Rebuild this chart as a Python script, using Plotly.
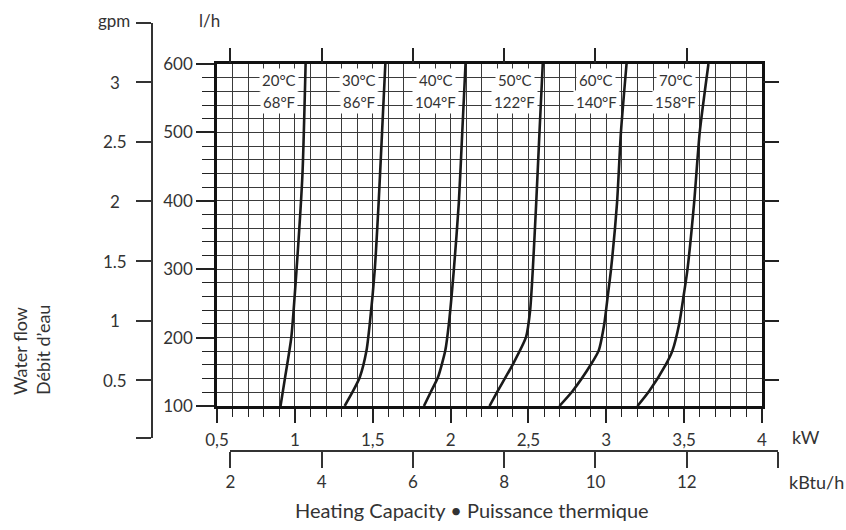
import plotly.graph_objects as go

W, H = 846, 530

# ---------------- data ----------------
temps_c = ["20°C", "30°C", "40°C", "50°C", "60°C", "70°C"]
temps_f = ["68°F", "86°F", "104°F", "122°F", "140°F", "158°F"]
label_kw = [0.897, 1.409, 1.904, 2.413, 2.934, 3.447]

flow_20 = [100, 140, 200, 300, 440, 600]
kw_20 = [0.908, 0.936, 0.977, 1.011, 1.049, 1.069]
flow_30 = [100, 122, 142, 181, 220, 299, 397, 500, 600]
kw_30 = [1.32, 1.374, 1.417, 1.46, 1.481, 1.513, 1.538, 1.56, 1.581]
flow_40 = [100, 122, 142, 181, 220, 299, 397, 500, 600]
kw_40 = [1.829, 1.876, 1.919, 1.966, 1.989, 2.021, 2.053, 2.075, 2.096]
flow_50 = [100, 122, 161, 201, 240, 299, 397, 500, 600]
kw_50 = [2.25, 2.303, 2.4, 2.485, 2.511, 2.528, 2.55, 2.571, 2.592]
flow_60 = [100, 122, 161, 181, 220, 260, 299, 397, 500, 600]
kw_60 = [2.699, 2.784, 2.902, 2.951, 2.987, 3.009, 3.03, 3.069, 3.094, 3.13]
flow_70 = [100, 122, 161, 181, 220, 260, 299, 397, 500, 600]
kw_70 = [3.2, 3.276, 3.383, 3.425, 3.468, 3.496, 3.521, 3.564, 3.6, 3.656]

curves = [(flow_20, kw_20), (flow_30, kw_30), (flow_40, kw_40),
          (flow_50, kw_50), (flow_60, kw_60), (flow_70, kw_70)]

kw_ticks = [0.5, 1, 1.5, 2, 2.5, 3, 3.5, 4]
kw_ticktext = ["0,5", "1", "1,5", "2", "2,5", "3", "3,5", "4"]
lh_ticks = [100, 200, 300, 400, 500, 600]
kbtu_ticks = [2, 4, 6, 8, 10, 12, 14]
kbtu_ticktext = ["2", "4", "6", "8", "10", "12", ""]
gpm_ticks = [0.5, 1, 1.5, 2, 2.5, 3]
gpm_ticktext = ["0.5", "1", "1.5", "2", "2.5", "3"]
gpm_on_plot = [0.285, 3.152]     # gpm values at 100 l/h and 600 l/h on this chart
gpm_axis_ends = [0.017, 3.494]   # extent of the separate gpm scale
KW_PER_KBTU = 0.29307

# ---------------- layout geometry ----------------
X0, X1 = 217 / W, 762 / W
Y0, Y1 = (H - 406) / H, (H - 64) / H
KW_RANGE = [0.5, 4]
LH_RANGE = [100, 600]


def kw_to_paper(kw):
    return X0 + (kw - KW_RANGE[0]) / (KW_RANGE[1] - KW_RANGE[0]) * (X1 - X0)


def gpm_to_paper(g):
    return Y0 + (g - gpm_on_plot[0]) / (gpm_on_plot[1] - gpm_on_plot[0]) * (Y1 - Y0)


FONT = "Lato, 'Open Sans', sans-serif"
TXT = "#333333"
GRID = "#3a3a3a"

fig = go.Figure()
for flow, kw in curves:
    fig.add_trace(go.Scatter(x=kw, y=flow, mode="lines",
                             line=dict(color="#1a1a1a", width=2.6, shape="spline", smoothing=0.6),
                             hoverinfo="skip", showlegend=False, xaxis="x", yaxis="y"))

# empty traces so that the extra axes render
fig.add_trace(go.Scatter(x=[None], y=[None], xaxis="x2", yaxis="y", showlegend=False))
fig.add_trace(go.Scatter(x=[None], y=[None], xaxis="x", yaxis="y4", showlegend=False))
fig.add_trace(go.Scatter(x=[None], y=[None], xaxis="x3", yaxis="y3", showlegend=False))

kbtu_dom = [kw_to_paper(kbtu_ticks[0] * KW_PER_KBTU), kw_to_paper(kbtu_ticks[-1] * KW_PER_KBTU)]
gpm_dom = [gpm_to_paper(gpm_axis_ends[0]), gpm_to_paper(gpm_axis_ends[1])]

fig.update_layout(
    width=W, height=H,
    margin=dict(l=0, r=0, t=0, b=0, pad=0, autoexpand=False),
    paper_bgcolor="white", plot_bgcolor="rgba(0,0,0,0)",
    font=dict(family=FONT, color=TXT, size=16),
    showlegend=False,
    xaxis=dict(domain=[X0, X1], range=KW_RANGE, tickmode="array", tickvals=kw_ticks,
               ticktext=kw_ticktext, ticks="outside", ticklen=14, tickwidth=1.5,
               tickcolor="#222", showgrid=True, gridcolor=GRID, gridwidth=1,
               minor=dict(tickmode="linear", tick0=0.5, dtick=0.1, ticks="outside",
                          ticklen=8, tickwidth=1.2, tickcolor="#222", showgrid=True,
                          gridcolor=GRID, gridwidth=1),
               showline=True, linecolor="#111", linewidth=2.6, mirror=True,
               zeroline=False, anchor="y", ticklabelstandoff=3, automargin=False,
               tickfont=dict(size=17, color=TXT, family=FONT)),
    yaxis=dict(domain=[Y0, Y1], range=LH_RANGE, tickmode="array", tickvals=lh_ticks,
               ticks="outside", ticklen=18, tickwidth=1.5, tickcolor="#222",
               showgrid=True, gridcolor=GRID, gridwidth=1,
               minor=dict(tickmode="linear", tick0=100, dtick=20, ticks="outside",
                          ticklen=12, tickwidth=1.2, tickcolor="#222", showgrid=True,
                          gridcolor=GRID, gridwidth=1),
               showline=True, linecolor="#111", linewidth=2.6, mirror=True,
               zeroline=False, anchor="x", automargin=False,
               tickfont=dict(size=17, color=TXT, family=FONT)),
    # top ticks at kBtu/h positions
    xaxis2=dict(overlaying="x", side="top", range=KW_RANGE, tickmode="array",
                tickvals=[k * KW_PER_KBTU for k in kbtu_ticks[:-1]], ticks="outside",
                ticklen=15, tickwidth=1.5, tickcolor="#222", showticklabels=False,
                showgrid=False, showline=False, zeroline=False, anchor="y",
                automargin=False),
    # kBtu/h scale below
    xaxis3=dict(domain=kbtu_dom, range=[kbtu_ticks[0], kbtu_ticks[-1]], anchor="free",
                position=(H - 451) / H, side="bottom", tickmode="array",
                tickvals=kbtu_ticks, ticktext=kbtu_ticktext, ticks="outside",
                ticklen=16, tickwidth=1.5, tickcolor="#333", showline=True,
                linecolor="#333", linewidth=1.5, showgrid=False, zeroline=False,
                automargin=False, tickfont=dict(size=17, color=TXT, family=FONT)),
    # gpm scale on the left
    yaxis3=dict(domain=gpm_dom, range=gpm_axis_ends, anchor="free", position=152 / W,
                side="left", tickmode="array",
                tickvals=[gpm_axis_ends[0]] + gpm_ticks + [gpm_axis_ends[1]],
                ticks="outside", ticklen=15, tickwidth=1.5, tickcolor="#333",
                showticklabels=False, showline=True, linecolor="#333", linewidth=1.5,
                showgrid=False, zeroline=False, automargin=False),
    # gpm ticks on the right of the plot
    yaxis4=dict(overlaying="y", side="right", range=gpm_on_plot, tickmode="array",
                tickvals=gpm_ticks, ticks="outside", ticklen=16, tickwidth=1.5,
                tickcolor="#222", showticklabels=False, showgrid=False,
                showline=False, zeroline=False, anchor="x", automargin=False),
)

ann = []
# temperature labels on white boxes
for c, f, xk in zip(temps_c, temps_f, label_kw):
    for txt, fl in ((c, 577), (f, 545)):
        ann.append(dict(x=xk, y=fl, xref="x", yref="y", text=txt, showarrow=False,
                        bgcolor="white", borderpad=2,
                        font=dict(size=15, color=TXT, family=FONT)))
# gpm labels (centered)
for g, t in zip(gpm_ticks, gpm_ticktext):
    ann.append(dict(x=115 / W, y=g, xref="paper", yref="y3", text=t, showarrow=False,
                    xanchor="center", yanchor="middle",
                    font=dict(size=17, color=TXT, family=FONT)))


def pa(px, py, text, xanchor="center", size=17, **kw):
    d = dict(x=px / W, y=1 - py / H, xref="paper", yref="paper", text=text,
             showarrow=False, xanchor=xanchor, yanchor="middle",
             font=dict(size=size, color=TXT, family=FONT))
    d.update(kw)
    return d


ann.append(pa(132, 21, "gpm", xanchor="right"))
ann.append(pa(209, 21, "l/h"))
ann.append(pa(806, 437, "kW", size=18))
ann.append(pa(816, 482, "kBtu/h", size=18))
ann.append(pa(472, 510, "Heating Capacity • Puissance thermique", size=20))
ann.append(dict(x=32 / W, y=1 - 397 / H, xref="paper", yref="paper",
                text="Water flow<br>Débit d’eau", showarrow=False, textangle=-90,
                xanchor="center", yanchor="bottom", align="left",
                font=dict(size=18, color=TXT, family=FONT)))

fig.update_layout(annotations=ann)
fig.write_html("out.html")
